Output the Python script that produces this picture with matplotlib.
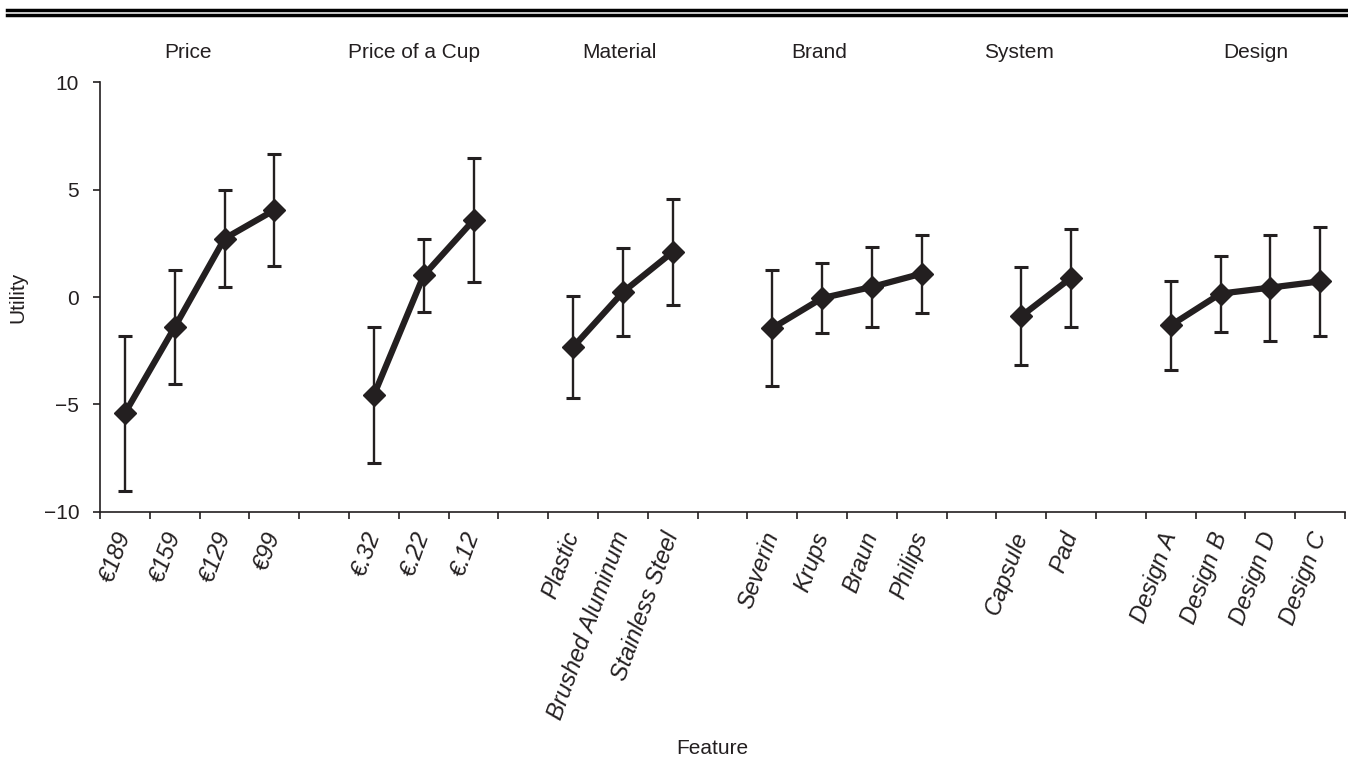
import matplotlib
matplotlib.use("Agg")
import matplotlib.pyplot as plt
from matplotlib.lines import Line2D
import matplotlib.transforms as mtransforms

plt.rcParams['font.family'] = ['Liberation Sans', 'DejaVu Sans']

INK = '#231f20'

# Attribute groups, their levels, mean utilities and error half-widths
groups = ["Price", "Price of a Cup", "Material", "Brand", "System", "Design"]
levels = [
    ["\u20ac189", "\u20ac159", "\u20ac129", "\u20ac99"],
    ["\u20ac.32", "\u20ac.22", "\u20ac.12"],
    ["Plastic", "Brushed Aluminum", "Stainless Steel"],
    ["Severin", "Krups", "Braun", "Philips"],
    ["Capsule", "Pad"],
    ["Design A", "Design B", "Design D", "Design C"],
]
utility = [
    [-5.41, -1.40, 2.72, 4.05],
    [-4.56, 1.01, 3.58],
    [-2.33, 0.23, 2.10],
    [-1.45, -0.05, 0.47, 1.09],
    [-0.89, 0.90],
    [-1.32, 0.16, 0.44, 0.73],
]
error = [
    [3.61, 2.65, 2.25, 2.62],
    [3.17, 1.71, 2.90],
    [2.39, 2.06, 2.46],
    [2.69, 1.63, 1.85, 1.82],
    [2.28, 2.29],
    [2.06, 1.77, 2.47, 2.55],
]
y_ticks = [-10, -5, 0, 5, 10]

# Layout: one empty slot between groups; group headings placed along the top
title_x = [1.77, 6.31, 10.42, 14.44, 18.45, 23.21]

fig = plt.figure(figsize=(13.48, 7.82), dpi=100)
ax = fig.add_axes([0.0742, 0.3456, 0.9236, 0.5491])

slot = 0
centers, labels = [], []
for lev, u, e in zip(levels, utility, error):
    xs = [slot + i + 0.5 for i in range(len(lev))]
    ax.errorbar(xs, u, yerr=e, fmt='none', ecolor=INK, elinewidth=1.7,
                capsize=5, capthick=2.2, zorder=2)
    ax.plot(xs, u, color=INK, linewidth=4.5, marker='D', markersize=11.5,
            markerfacecolor=INK, markeredgecolor=INK, zorder=3,
            solid_joinstyle='miter')
    centers += xs
    labels += lev
    slot += len(lev) + 1
n_slots = slot - 1

ax.set_xlim(0, n_slots)
ax.set_ylim(-10, 10)

for side in ('top', 'right'):
    ax.spines[side].set_visible(False)
for side in ('left', 'bottom'):
    ax.spines[side].set_color(INK)
    ax.spines[side].set_linewidth(1.2)

ax.set_yticks(y_ticks)
ax.set_yticklabels(["\u221210", "\u22125", "0", "5", "10"])
ax.tick_params(axis='y', direction='out', length=5, width=1.2, color=INK,
               labelsize=15, pad=10, labelcolor=INK)

ax.set_xticks(range(n_slots + 1))
ax.set_xticklabels([])
ax.tick_params(axis='x', which='major', direction='out', length=5, width=1.2,
               color=INK)
ax.set_xticks(centers, minor=True)
ax.set_xticklabels(labels, minor=True, rotation=70, ha='right', va='center',
                   rotation_mode='anchor', fontsize=17, style='italic',
                   color=INK)
ax.tick_params(axis='x', which='minor', length=0, pad=15)

trans = mtransforms.blended_transform_factory(ax.transData, ax.transAxes)
for name, tx in zip(groups, title_x):
    ax.text(tx, 1.0706, name, transform=trans, ha='center', va='center',
            fontsize=15, color=INK)

ax.set_ylabel("Utility", fontsize=15, color=INK)
ax.yaxis.set_label_coords(-0.058, 0.5)
ax.set_xlabel("Feature", fontsize=15, color=INK)
ax.xaxis.set_label_coords(0.4916, -0.53)

# Double rule along the top edge
for yy, lw in ((0.9875, 2.5), (0.9812, 2.5)):
    fig.add_artist(Line2D([0.005, 1.0], [yy, yy], transform=fig.transFigure,
                          color='black', linewidth=lw))

fig.savefig("out.png", dpi=100)
